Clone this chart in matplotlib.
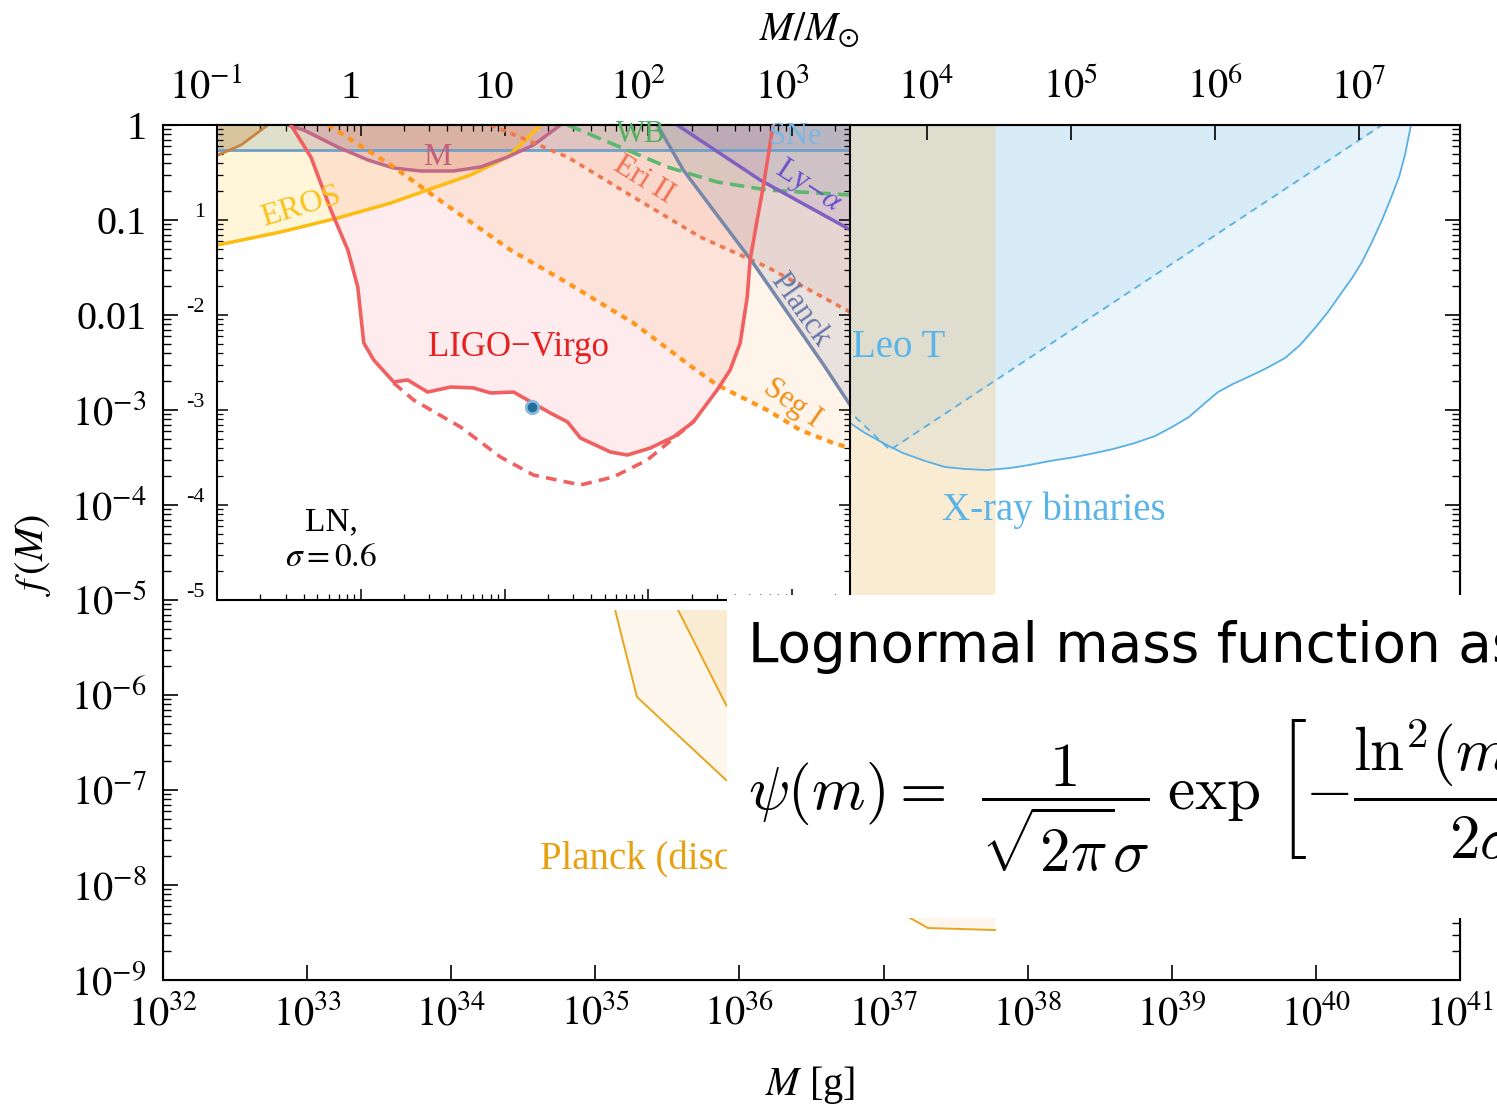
import numpy as np
import matplotlib.pyplot as plt
import matplotlib.transforms as mtransforms
from matplotlib.patches import Rectangle
from matplotlib.ticker import LogLocator, NullLocator, FixedLocator, FixedFormatter

plt.rcParams['font.family'] = 'serif'
plt.rcParams['font.serif'] = ['Liberation Serif', 'DejaVu Serif']
plt.rcParams['mathtext.fontset'] = 'stix'

W, H = 1497, 1107
M_SUN = 1.989e33

# ---------------- large-mass constraints: log10(M/g), log10 f ----------------
xray_logm = [36.559, 36.767, 36.871, 37.010, 37.135, 37.288, 37.426, 37.565, 37.718,
             37.877, 38.009, 38.155, 38.329, 38.467, 38.592, 38.745, 38.884, 39.002,
             39.119, 39.231, 39.321, 39.425, 39.529, 39.647, 39.786, 39.890, 39.994,
             40.084, 40.167, 40.251, 40.320, 40.389, 40.459, 40.521, 40.577, 40.618,
             40.660]
xray_logf = [-2.895, -3.137, -3.242, -3.358, -3.453, -3.537, -3.600, -3.621, -3.632,
             -3.611, -3.579, -3.537, -3.495, -3.453, -3.411, -3.347, -3.274, -3.179,
             -3.074, -2.926, -2.811, -2.726, -2.653, -2.568, -2.453, -2.316, -2.137,
             -1.968, -1.789, -1.611, -1.442, -1.232, -1.000, -0.768, -0.547, -0.316,
             0.0]

leot_logm = [36.42, 36.767, 37.045, 40.459]
leot_logf = [-2.526, -3.021, -3.421, 0.0]

disc_lo_logm = [35.046, 35.137, 35.289, 35.907, 37.184, 37.308, 37.773]
disc_lo_logf = [-4.579, -5.105, -6.021, -6.895, -8.347, -8.453, -8.474]
disc_hi_logm = [35.40, 35.574, 35.907, 36.420, 36.975, 37.773]
disc_hi_logf = [-4.579, -5.105, -6.105, -7.000, -7.737, -8.105]

# ---------------- LN (sigma = 0.6) panel: log10(M/Msun), log10 f ----------------
sne_logf = -0.263

brown_logm = [-0.993, -0.833, -0.646]
brown_logf = [-0.316, -0.211, 0.0]

eros_logm = [-0.993, -0.556, -0.160, 0.208, 0.465, 0.764, 1.021, 1.146, 1.250]
eros_logf = [-1.263, -1.126, -0.979, -0.821, -0.684, -0.526, -0.337, -0.158, 0.0]

macho_logm = [-0.507, -0.396, -0.160, 0.049, 0.229, 0.417, 0.646, 0.833, 1.021, 1.201, 1.389]
macho_logf = [0.0, -0.053, -0.232, -0.368, -0.453, -0.484, -0.484, -0.442, -0.337, -0.211, 0.0]

ligo_logm = [-0.486, -0.347, -0.208, -0.090, -0.021, 0.021, 0.090, 0.229, 0.326, 0.465,
             0.625, 0.785, 0.903, 1.063, 1.160, 1.319, 1.438, 1.528, 1.736, 1.854,
             2.014, 2.174, 2.313, 2.479, 2.569, 2.639, 2.688, 2.708, 2.757, 2.799, 2.868]
ligo_logf = [0.0, -0.337, -0.895, -1.316, -1.705, -2.295, -2.474, -2.705, -2.684, -2.811,
             -2.758, -2.768, -2.821, -2.811, -2.895, -3.032, -3.126, -3.295, -3.442, -3.474,
             -3.400, -3.284, -3.126, -2.789, -2.579, -2.295, -1.811, -1.421, -1.000, -0.653, 0.0]

ligo_proj_logm = [0.229, 0.368, 0.694, 0.972, 1.201, 1.528, 1.757, 1.993, 2.271, 2.326]
ligo_proj_logf = [-2.716, -2.895, -3.179, -3.495, -3.684, -3.789, -3.705, -3.526, -3.179, -3.105]

best_logm, best_logf = 1.194, -2.968

segi_logm = [-0.229, 0.229, 0.576, 1.042, 1.438, 1.896, 2.313, 2.479, 2.826, 3.056, 3.285, 3.403]
segi_logf = [0.0, -0.442, -0.821, -1.316, -1.663, -2.084, -2.558, -2.737, -3.000, -3.211, -3.347, -3.400]

eri_logm = [0.903, 1.438, 1.896, 2.361, 2.826, 3.403]
eri_logf = [0.0, -0.337, -0.758, -1.179, -1.495, -1.968]

wb_logm = [1.438, 1.736, 2.132, 2.479, 2.826, 3.403]
wb_logf = [0.0, -0.189, -0.442, -0.600, -0.684, -0.737]

planck_logm = [2.063, 2.243, 2.729, 3.220, 3.403]
planck_logf = [0.0, -0.474, -1.453, -2.526, -2.947]

lya_logm = [2.201, 2.778, 3.382, 3.403]
lya_logf = [0.0, -0.579, -1.084, -1.10]

# tick labels
bottom_exps = list(range(32, 42))
top_exps = list(range(-1, 8))
top_labels = [r"$10^{-1}$", "1", "10"] + [rf"$10^{{{k}}}$" for k in range(2, 8)]
left_exps = list(range(-9, 1))
left_labels = [rf"$10^{{{k}}}$" for k in range(-9, -2)] + ["0.01", "0.1", "1"]
inset_exps = [-1, -2, -3, -4, -5]
inset_labels = ["1", "-2", "-3", "-4", "-5"]


def p10(a):
    return 10.0 ** np.asarray(a, dtype=float)


def fpos(x0, y0, x1, y1):
    # pixel box (top-left origin) -> figure fraction rect
    return [x0 / W, 1 - y1 / H, (x1 - x0) / W, (y1 - y0) / H]


fig = plt.figure(figsize=(W / 100, H / 100), dpi=100)

# ---------------- main axes ----------------
ax = fig.add_axes(fpos(163, 125, 1460, 980), zorder=0)
ax.set_xscale('log')
ax.set_yscale('log')
ax.set_xlim(1e32, 1e41)
ax.set_ylim(1e-9, 1)

blue = '#5ab0e4'
ax.fill_between(p10(xray_logm), p10(xray_logf), 1, color=blue, alpha=0.12, lw=0, zorder=1)
ax.fill_between(p10(leot_logm), p10(leot_logf), 1, color=blue, alpha=0.12, lw=0, zorder=1)
ax.plot(p10(xray_logm), p10(xray_logf), color=blue, lw=1.3, zorder=3)
ax.plot(p10(leot_logm), p10(leot_logf), color=blue, lw=1.3, ls=(0, (4, 3)), zorder=3)

disc = '#f0c070'
ax.fill_between(p10(disc_lo_logm), p10(disc_lo_logf), 1, color=disc, alpha=0.13, lw=0, zorder=2)
ax.fill_between(p10(disc_hi_logm), p10(disc_hi_logf), 1, color=disc, alpha=0.2, lw=0, zorder=2)
ax.plot(p10(disc_lo_logm), p10(disc_lo_logf), color='#e8a520', lw=1.4, zorder=3)
ax.plot(p10(disc_hi_logm), p10(disc_hi_logf), color='#e8a520', lw=1.4, zorder=3)

ax.text(10 ** 36.781, 10 ** -2.337, "Leo T", color='#5ab4e8', fontsize=28,
        ha='left', va='center', zorder=4)
ax.text(10 ** 37.406, 10 ** -4.053, "X-ray binaries", color='#5ab4e8', fontsize=28,
        ha='left', va='center', zorder=4)
ax.text(10 ** 34.616, 10 ** -7.737, "Planck (disc)", color='#e8a010', fontsize=28,
        ha='left', va='center', zorder=4)

ax.xaxis.set_major_locator(FixedLocator(p10(bottom_exps)))
ax.xaxis.set_major_formatter(FixedFormatter([rf"$10^{{{k}}}$" for k in bottom_exps]))
ax.xaxis.set_minor_locator(NullLocator())
ax.yaxis.set_major_locator(FixedLocator(p10(left_exps)))
ax.yaxis.set_major_formatter(FixedFormatter(left_labels))
ax.yaxis.set_minor_locator(LogLocator(base=10, subs=np.arange(2, 10), numticks=100))
ax.tick_params(which='both', direction='in', right=True, labelsize=29)
ax.tick_params(which='major', length=11, width=1.2)
ax.tick_params(which='minor', length=6, width=1.0)
ax.tick_params(axis='y', pad=12)
ax.tick_params(axis='x', pad=11)
for sp in ax.spines.values():
    sp.set_linewidth(1.5)

axt = ax.twiny()
axt.set_xscale('log')
axt.set_xlim(1e32 / M_SUN, 1e41 / M_SUN)
axt.xaxis.set_major_locator(FixedLocator(p10(top_exps)))
axt.xaxis.set_major_formatter(FixedFormatter(top_labels))
axt.xaxis.set_minor_locator(NullLocator())
axt.tick_params(axis='x', direction='in', length=11, width=1.2, labelsize=29, pad=13)

fig.text(810 / W, 1 - 30 / H, r"$M/M_{\odot}$", fontsize=29, ha='center', va='center')
fig.text(810 / W, 1 - 1085 / H, r"$M$ [g]", fontsize=29, ha='center', va='center')
fig.text(33 / W, 1 - 555 / H, r"$f\,(M)$", fontsize=29, rotation=90, ha='center', va='center')

# white backing for the LN panel
fig.add_artist(Rectangle((178 / W, 1 - 610 / H), (850 - 178) / W, (610 - 126) / H,
                         transform=fig.transFigure, facecolor='white', edgecolor='none',
                         zorder=1))

# ---------------- LN panel ----------------
ai = fig.add_axes(fpos(217, 125, 850, 600), zorder=2, facecolor='white')
ai.set_xscale('log')
ai.set_yscale('log')
xmax = 10 ** ((850 - 360) / 144)
ai.set_xlim(0.1, xmax)
ai.set_ylim(1e-5, 1)


def shade(lm, lf, color, alpha):
    ai.fill_between(p10(lm), p10(lf), 1, color=color, alpha=alpha, lw=0, zorder=1)


ai.fill_between([0.1, xmax], 10 ** sne_logf, 1, color='#7aa8cc', alpha=0.28, lw=0, zorder=1)
shade(brown_logm, brown_logf, '#c08040', 0.3)
shade(eros_logm, eros_logf, '#ffc000', 0.15)
shade(macho_logm, macho_logf, '#b06080', 0.22)
ai.fill(p10(ligo_logm), p10(ligo_logf), color='#f06070', alpha=0.12, lw=0, zorder=1)
shade(segi_logm, segi_logf, '#ff9020', 0.09)
shade(eri_logm, eri_logf, '#f07050', 0.1)
shade(wb_logm, wb_logf, '#50b860', 0.06)
shade(planck_logm, planck_logf, '#7080a0', 0.16)
shade(lya_logm, lya_logf, '#8060c0', 0.14)

ai.axhline(10 ** sne_logf, color='#6fa0c8', lw=2, zorder=2)
ai.plot(p10(brown_logm), p10(brown_logf), color='#c88440', lw=2, zorder=2)
ai.plot(p10(eros_logm), p10(eros_logf), color='#fcbc10', lw=2.5, zorder=2)
ai.plot(p10(macho_logm), p10(macho_logf), color='#c06888', lw=2.5, zorder=2)
ai.plot(p10(segi_logm), p10(segi_logf), color='#ff961a', lw=3, ls=(0, (1.5, 1.4)), zorder=2)
ai.plot(p10(eri_logm), p10(eri_logf), color='#f07850', lw=2.6, ls=(0, (1.5, 1.5)), zorder=2)
ai.plot(p10(wb_logm), p10(wb_logf), color='#5cb870', lw=2.6, ls=(0, (4, 2)), zorder=2)
ai.plot(p10(planck_logm), p10(planck_logf), color='#7888a8', lw=2.5, zorder=2)
ai.plot(p10(lya_logm), p10(lya_logf), color='#8060c0', lw=2.5, zorder=2)
ai.plot(p10(ligo_logm), p10(ligo_logf), color='#f06060', lw=2.6, zorder=3)
ai.plot(p10(ligo_proj_logm), p10(ligo_proj_logf), color='#f06060', lw=2.6,
        ls=(0, (3, 2)), zorder=3)
ai.plot([10 ** best_logm], [10 ** best_logf], 'o', ms=9, mfc='#1f6e9c', mec='#8ab8d8',
        mew=2, zorder=4)


def label(lm, lf, s, color, size=20, rot=0, **kw):
    ai.text(10 ** lm, 10 ** lf, s, color=color, fontsize=size, rotation=rot,
            ha='center', va='center', rotation_mode='anchor', zorder=5, **kw)


label(-0.417, -0.863, "EROS", '#f8c21a', 23, 17)
label(0.535, -0.347, "M", '#c0607a', 23)
label(1.097, -2.347, "LIGO\u2212Virgo", '#e82020', 25)
label(1.944, -0.105, "WB", '#4cb060', 22)
label(1.965, -0.579, "Eri II", '#f07050', 22, -32)
label(3.021, -0.126, "SNe", '#7ab8e0', 22)
label(3.111, -0.653, r"Ly$-\alpha$", '#6a50c8', 22, -33)
label(3.056, -1.947, "Planck", '#6878a8', 22, -55)
label(3.000, -2.926, "Seg I", '#f0901a', 22, -35)
label(-0.201, -4.179, "LN,", 'black', 24)
label(-0.208, -4.558, r"$\sigma = 0.6$", 'black', 24)

ai.xaxis.set_major_locator(LogLocator(base=10, numticks=20))
ai.xaxis.set_minor_locator(LogLocator(base=10, subs=np.arange(2, 10), numticks=100))
ai.yaxis.set_major_locator(LogLocator(base=10, numticks=20))
ai.yaxis.set_minor_locator(LogLocator(base=10, subs=np.arange(2, 10), numticks=100))
ai.tick_params(which='both', direction='in', top=True, right=True,
               labelleft=False, labelbottom=False)
ai.tick_params(which='major', length=8, width=1.1)
ai.tick_params(which='minor', length=4.5, width=0.9)
for sp in ai.spines.values():
    sp.set_linewidth(1.5)

ytr = mtransforms.blended_transform_factory(ai.transAxes, ai.transData)
for k, s in zip(inset_exps, inset_labels):
    ai.text(-0.019, 10 ** (k + 0.08), s, transform=ytr, fontsize=16,
            ha='right', va='center', clip_on=False)

# ---------------- formula card ----------------
fig.add_artist(Rectangle((727 / W, 1 - 918 / H), (W - 727) / W, (918 - 595) / H,
                         transform=fig.transFigure, facecolor='white', edgecolor='none',
                         zorder=3))
fig.text(748 / W, 1 - 662 / H, "Lognormal mass function as", family='DejaVu Sans',
         fontsize=39.5, ha='left', va='baseline', zorder=4)
fig.text(748 / W, 1 - 810 / H,
         r"$\psi(m) =\;\, \dfrac{1}{\sqrt{2\pi}\sigma}\:\exp\,\left[-\dfrac{\ln^2\!(m/m_c)}{2\sigma^2}\right]$",
         math_fontfamily='cm', fontsize=44, ha='left', va='baseline', zorder=4)

fig.savefig('out.png', dpi=100)
